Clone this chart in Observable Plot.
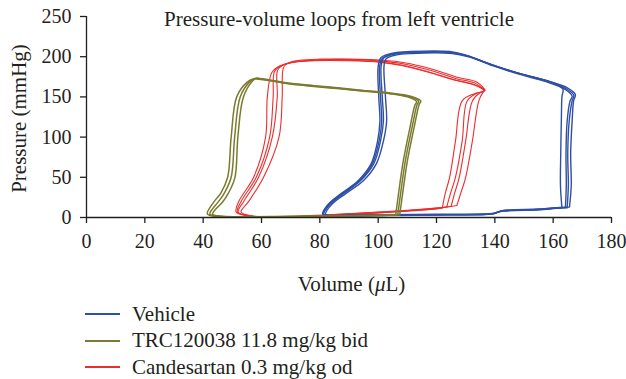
<!DOCTYPE html>
<html>
<head>
<meta charset="utf-8">
<script src="https://cdn.jsdelivr.net/npm/d3@7"></script>
<script src="https://cdn.jsdelivr.net/npm/@observablehq/plot@0.6"></script>
<style>
  body { margin: 0; background: #fff; }
  #chart { position: relative; width: 626px; height: 379px; font-family: "Liberation Serif", serif; color: #231f20; }
  #chart svg { display: block; }
  #chart svg text { font-family: "Liberation Serif", serif !important; }
  #legend { position: absolute; left: 85px; top: 301px; }
  .row { display: flex; align-items: center; height: 26.5px; font-size: 21px; white-space: nowrap; }
  .swatch { display: inline-block; width: 35px; height: 2px; margin-right: 12px; }
</style>
</head>
<body>
<div id="chart"></div>
<script>
// ---- data: [volume (µL), pressure (mmHg)] ----
const seriesNames = ["Vehicle", "TRC120038 11.8 mg/kg bid", "Candesartan 0.3 mg/kg od"];
const seriesColors = ["#2f4fa6", "#7b7b2f", "#ee2c2c"];
const xTicks = [0, 20, 40, 60, 80, 100, 120, 140, 160, 180];
const yTicks = [0, 50, 100, 150, 200, 250];
const titleText = "Pressure-volume loops from left ventricle";
const yLabel = "Pressure (mmHg)";
const xLabel = "Volume (μL)";

const vehicleLoop1 = [[164.8,12],[165.2,40],[165.0,80],[165.5,120],[166.5,145],[167.1,152],[164.5,160],[158,170],[148.8,178.6],[139.7,189],[130.5,201],[124.8,205],[111.1,205],[105.4,203],[101.8,198],[101,188],[101.4,150],[101.8,120],[100.8,95],[98.5,67],[94,46],[88.2,30],[83.7,17],[81.4,4],[90,2.5],[100,3],[120,3.5],[139.7,5],[142,8],[155,10],[160,11.5],[164.8,12]];
const vehicleLoop2 = [[163,12],[162.5,40],[162.6,80],[162.8,120],[163,150],[163.3,160],[157.5,170.5],[148,179.5],[139,190],[130,202],[124.5,206.5],[111,206.5],[105,204.5],[101,199],[100,188],[100.2,150],[100.6,120],[99.8,95],[97.6,67],[93.2,46],[87.4,30],[83,17],[81,4],[90,2],[100,2.5],[120,3],[139.5,4.5],[142,7.5],[155,9.5],[160,11],[163,12]];
const vehicleLoop3 = [[165.6,13],[166.2,40],[166,80],[166.5,120],[167,145],[167.6,153],[165,161],[158.5,169.5],[149.5,178],[140.5,188],[131,200],[125.5,204],[111.5,204],[106,202],[102.6,197],[102,188],[102.5,150],[102.9,120],[101.8,95],[99.4,67],[95,46],[89,30],[84.3,17],[82,4],[90,3],[100,3.5],[120,4],[140,5.5],[142.5,8.5],[155,10.5],[160,12],[165.6,13]];
const vehicleLoop4 = [[164.2,12.5],[164.5,40],[164.4,80],[164.8,120],[165.8,145],[166.5,151],[164,159.5],[157.5,169],[148.5,178],[139.5,188.5],[130.2,201.5],[124.6,205.5],[111,205.5],[105,203.5],[101.5,198],[100.5,188],[100.8,150],[101.2,120],[100.3,95],[98,67],[93.6,46],[87.8,30],[83.3,17],[81.2,4],[90,2.5],[100,3],[120,3.5],[139.6,5],[142,8],[155,10],[160,11.5],[164.2,12.5]];

const trcLoop1 = [[106.0,3],[107,30],[108.6,70],[110.8,110],[112.6,140],[113.2,144],[110,150],[104,154],[95,157],[87,160],[78,163],[70,166],[63,170],[59,172],[57.5,172.5],[55,168],[51.5,150],[49.6,100],[48.4,50],[46,30],[43.8,20],[41.5,7],[41.5,4],[44,1.5],[50,0.8],[70,1],[90,1.5],[106.0,3]];
const trcLoop2 = [[106.7,3],[107.7,30],[109.3,70],[111.5,110],[113.3,140],[113.9,144.5],[110.5,150.5],[104,154.5],[95,157.5],[87,160.5],[78,163.5],[70,166.5],[63,170.5],[59,172.5],[57.8,173],[56,169],[52.7,150],[50.8,100],[49.6,50],[47.2,30],[45.3,20],[42.5,7],[42.3,4],[45,1.5],[51,0.8],[70,1.2],[90,1.8],[106.7,3]];
const trcLoop3 = [[107.4,3.5],[108.4,30],[110,70],[112.2,110],[114,140],[114.6,145],[111,151],[104,155],[95,158],[87,161],[78,164],[70,167],[63,171],[59.5,173],[58.2,173.2],[57,170],[53.8,150],[51.9,100],[50.9,50],[48.6,30],[46.8,20],[43.5,7],[43.2,4],[46,1.8],[52,1],[70,1.5],[90,2],[107.4,3.5]];

const candLoop1 = [[122,12],[123,30],[124.5,50],[126.5,95],[128.8,145],[133,154],[136.2,157],[133,165],[126,171],[117,181],[108,189],[101,193],[90,195],[78,195],[71,193],[66,188],[63.5,180],[62,150],[61.4,100],[57.3,50],[52.2,20],[51.3,7],[55,2.5],[65,0.5],[81,2.5],[104,6.5],[118,10],[122,12]];
const candLoop2 = [[123.5,13],[124.8,30],[126.5,50],[128.8,95],[130.5,145],[134,155],[136.3,157.5],[133.5,166.5],[126.5,173],[117.5,183.5],[108,191.5],[101,194.5],[90,196.5],[79,196],[72,194],[67.5,190],[65.5,183],[65.4,150],[63.7,100],[59,50],[53.9,20],[52,7],[55.5,2],[66,0.5],[82,3],[105,7.5],[120,11],[123.5,13]];
const candLoop3 = [[125,14],[126.2,30],[127.8,50],[130,95],[132.3,145],[135,155.5],[136.5,158],[134,168],[127,174.5],[118,185],[109,192.5],[101.5,195.5],[90,197],[80,197],[73,195.5],[69,192],[67.5,186],[67.1,150],[66,100],[60.7,50],[55.6,20],[53,7],[56.5,2],[67,1],[83,3.5],[106,8],[121,12],[125,14]];
const candLoop4 = [[127,15],[128.3,30],[130,50],[132.3,95],[134.5,145],[136,156],[136.7,158.5],[132.5,165.5],[125.5,172],[116.5,182],[107.5,190],[100.5,193.5],[90,195.5],[78.5,195.5],[71.5,193.5],[67,189],[64.5,182],[64,150],[62.8,100],[58.2,50],[53,20],[51.7,7],[55,2],[65.5,0.5],[81.5,2.5],[104.5,7],[122,12.5],[127,15]];

const loopsBySeries = [
  [vehicleLoop1, vehicleLoop2, vehicleLoop3, vehicleLoop4],
  [trcLoop1, trcLoop2, trcLoop3],
  [candLoop1, candLoop2, candLoop3, candLoop4]
];
const strokeWidths = [1.4, 1.5, 1.1];

// ---- build table ----
const rows = [];
loopsBySeries.forEach((loops, si) => {
  loops.forEach((loop, ci) => {
    loop.forEach(([V, P]) => rows.push({series: seriesNames[si], cycle: si + "-" + ci, V, P}));
  });
});

const FONT = "Liberation Serif, serif";
const W = 626, H = 300;
const lineMarks = [2, 0, 1].map(si =>
  Plot.line(rows.filter(d => d.series === seriesNames[si]), {
    x: "V", y: "P", z: "cycle", stroke: seriesColors[si], strokeWidth: strokeWidths[si], curve: "catmull-rom"
  })
);

const plot = Plot.plot({
  width: W, height: H,
  marginLeft: 86, marginRight: 15, marginTop: 16, marginBottom: 83,
  style: {fontFamily: FONT, fontSize: "20px", color: "#231f20", background: "#fff"},
  x: {domain: [0, 180]},
  y: {domain: [0, 250]},
  marks: [
    ...lineMarks,
    Plot.ruleY([0], {stroke: "#231f20", strokeWidth: 1.3}),
    Plot.ruleX([0], {stroke: "#231f20", strokeWidth: 1.3}),
    Plot.axisX(xTicks, {tickSize: 6, tickPadding: 10, label: null, strokeWidth: 1.3, fontFamily: FONT, fontSize: 20}),
    Plot.axisY(yTicks, {tickSize: 6, tickPadding: 9, label: null, strokeWidth: 1.3, fontFamily: FONT, fontSize: 20}),
    Plot.text([titleText], {frameAnchor: "top", lineAnchor: "middle", dx: -10, dy: 2.5, fontSize: 21, fontFamily: FONT}),
    Plot.text([yLabel], {frameAnchor: "left", textAnchor: "middle", lineAnchor: "middle", rotate: -90, dx: -67, dy: 1.5, fontSize: 21, fontFamily: FONT}),
    Plot.text([xLabel], {frameAnchor: "bottom", textAnchor: "middle", lineAnchor: "middle", dx: 2.5, dy: 67, fontSize: 21, fontFamily: FONT})
  ]
});

// italic mu in the x label
plot.querySelectorAll("text").forEach(t => {
  if (t.textContent === xLabel) {
    while (t.firstChild) t.removeChild(t.firstChild);
    const ns = "http://www.w3.org/2000/svg";
    const parts = [["Volume (", null], ["μ", "italic"], ["L)", null]];
    parts.forEach(([s, style]) => {
      const ts = document.createElementNS(ns, "tspan");
      ts.textContent = s;
      if (style) ts.setAttribute("font-style", style);
      t.appendChild(ts);
    });
  }
});

const chart = document.getElementById("chart");
chart.appendChild(plot);

// legend below the plot
const legend = document.createElement("div");
legend.id = "legend";
seriesNames.forEach((name, i) => {
  const row = document.createElement("div");
  row.className = "row";
  const sw = document.createElement("span");
  sw.className = "swatch";
  sw.style.background = seriesColors[i];
  const label = document.createElement("span");
  label.textContent = name;
  row.appendChild(sw);
  row.appendChild(label);
  legend.appendChild(row);
});
chart.appendChild(legend);
</script>
</body>
</html>
